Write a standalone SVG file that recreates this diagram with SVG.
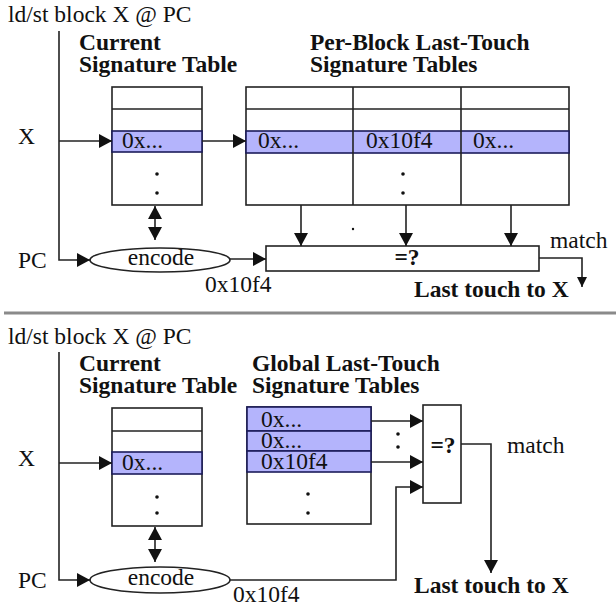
<svg xmlns="http://www.w3.org/2000/svg" width="616" height="607" viewBox="0 0 616 607">
<style>
text{font-family:"Liberation Serif","Times New Roman",serif;font-size:23.5px;fill:#111}
.b{font-weight:bold}
.box{fill:#fff;stroke:#222;stroke-width:1.6}
.hl{fill:#b4b4fc;stroke:#1c1c5a;stroke-width:1.6}
.ln{fill:none;stroke:#222;stroke-width:1.6}
.ar{fill:none;stroke:#222;stroke-width:1.6;marker-end:url(#ah)}
.dot{fill:#111}
</style>
<defs>
<marker id="ah" markerUnits="userSpaceOnUse" markerWidth="14" markerHeight="15" refX="13" refY="7" orient="auto"><path d="M0,0 L13,7 L0,14 z" fill="#111"/></marker>
<marker id="ahs" markerUnits="userSpaceOnUse" markerWidth="11" markerHeight="11" refX="10" refY="5" orient="auto"><path d="M0,0 L10,5 L0,10 z" fill="#111"/></marker>
<marker id="ahd" markerUnits="userSpaceOnUse" markerWidth="14" markerHeight="15" refX="13" refY="7" orient="auto-start-reverse"><path d="M0,0 L13,7 L0,14 z" fill="#111"/></marker>
</defs>
<rect width="616" height="607" fill="#fff"/>

<!-- ===== TOP PANEL ===== -->
<g id="top-title"><text x="8" y="22">ld/st block X @ PC</text></g>
<g id="top-x-label"><text x="18" y="144">X</text></g>
<g id="top-pc-label"><text x="18" y="268">PC</text></g>

<g id="top-current-table">
<text class="b" x="79" y="50">Current</text>
<text class="b" x="79" y="72">Signature Table</text>
<rect class="box" x="112" y="87" width="90" height="118"/>
<line class="ln" x1="112" y1="109" x2="202" y2="109"/>
<rect class="hl" x="112" y="131" width="90" height="21"/>
<text x="122" y="148">0x...</text>
<circle class="dot" cx="157" cy="174" r="1.8"/>
<circle class="dot" cx="157" cy="193" r="1.8"/>
</g>

<g id="top-perblock-tables">
<text class="b" x="310" y="50">Per-Block Last-Touch</text>
<text class="b" x="310" y="72">Signature Tables</text>
<rect class="box" x="246" y="87" width="323" height="118"/>
<line class="ln" x1="246" y1="109" x2="569" y2="109"/>
<rect class="hl" x="246" y="131" width="323" height="22"/>
<line class="ln" x1="353" y1="87" x2="353" y2="205"/>
<line class="ln" x1="461" y1="87" x2="461" y2="205"/>
<text x="258" y="148">0x...</text>
<text x="366" y="148">0x10f4</text>
<text x="473" y="148">0x...</text>
<circle class="dot" cx="403" cy="174" r="1.8"/>
<circle class="dot" cx="403" cy="193" r="1.8"/>
<circle class="dot" cx="353" cy="229" r="1.2"/>
</g>

<g id="top-encode">
<ellipse class="box" cx="160" cy="260" rx="70" ry="12"/>
<text x="161" y="265" text-anchor="middle">encode</text>
</g>

<g id="top-compare">
<rect class="box" x="266" y="246" width="273" height="25"/>
<text class="b" x="407" y="265" text-anchor="middle">=?</text>
</g>

<g id="top-labels">
<text x="205" y="292">0x10f4</text>
<text x="550" y="248">match</text>
<text class="b" x="414" y="297">Last touch to X</text>
</g>

<g id="top-connectors">
<polyline class="ln" points="59,31 59,260 76,260"/>
<line class="ar" x1="59" y1="141" x2="112" y2="141"/>
<line class="ar" x1="76" y1="260" x2="90" y2="260"/>
<line class="ar" x1="202" y1="141" x2="246" y2="141"/>
<line class="ln" x1="155" y1="206" x2="155" y2="240" style="marker-start:url(#ahd);marker-end:url(#ahd)"/>
<line class="ar" x1="230" y1="259" x2="266" y2="259"/>
<line class="ar" x1="301" y1="205" x2="301" y2="246"/>
<line class="ar" x1="406" y1="205" x2="406" y2="246"/>
<line class="ar" x1="511" y1="205" x2="511" y2="246"/>
<polyline class="ln" points="539,258 582,258 582,287" style="marker-end:url(#ahs)"/>
</g>

<!-- separator -->
<line x1="4" y1="313" x2="616" y2="313" stroke="#8a8a8a" stroke-width="3"/>

<!-- ===== BOTTOM PANEL ===== -->
<g id="bot-title"><text x="8" y="344">ld/st block X @ PC</text></g>
<g id="bot-x-label"><text x="18" y="466">X</text></g>
<g id="bot-pc-label"><text x="18" y="588">PC</text></g>

<g id="bot-current-table">
<text class="b" x="79" y="371">Current</text>
<text class="b" x="79" y="393">Signature Table</text>
<rect class="box" x="112" y="408" width="90" height="118"/>
<line class="ln" x1="112" y1="431" x2="202" y2="431"/>
<rect class="hl" x="112" y="452" width="90" height="22"/>
<text x="122" y="470">0x...</text>
<circle class="dot" cx="157" cy="497" r="1.8"/>
<circle class="dot" cx="157" cy="513" r="1.8"/>
</g>

<g id="bot-global-table">
<text class="b" x="252" y="371">Global Last-Touch</text>
<text class="b" x="252" y="393">Signature Tables</text>
<rect class="box" x="247" y="407" width="124" height="117"/>
<rect class="hl" x="247" y="407" width="124" height="24"/>
<rect class="hl" x="247" y="431" width="124" height="20"/>
<rect class="hl" x="247" y="451" width="124" height="21"/>
<text x="261" y="427">0x...</text>
<text x="261" y="448">0x...</text>
<text x="261" y="469">0x10f4</text>
<circle class="dot" cx="308" cy="494" r="1.8"/>
<circle class="dot" cx="308" cy="513" r="1.8"/>
<circle class="dot" cx="398" cy="434" r="1.8"/>
<circle class="dot" cx="398" cy="447" r="1.8"/>
</g>

<g id="bot-encode">
<ellipse class="box" cx="160" cy="580" rx="70" ry="13"/>
<text x="161" y="585" text-anchor="middle">encode</text>
</g>

<g id="bot-compare">
<rect class="box" x="423" y="405" width="38" height="98"/>
<text class="b" x="443" y="453" text-anchor="middle">=?</text>
</g>

<g id="bot-labels">
<text x="233" y="602">0x10f4</text>
<text x="507" y="453">match</text>
<text class="b" x="414" y="593">Last touch to X</text>
</g>

<g id="bot-connectors">
<polyline class="ln" points="59,352 59,580 76,580"/>
<line class="ar" x1="59" y1="463" x2="112" y2="463"/>
<line class="ar" x1="76" y1="580" x2="90" y2="580"/>
<line class="ln" x1="155" y1="527" x2="155" y2="562" style="marker-start:url(#ahd);marker-end:url(#ahd)"/>
<line class="ar" x1="371" y1="421" x2="423" y2="421"/>
<line class="ar" x1="371" y1="462" x2="423" y2="462"/>
<polyline class="ar" points="230,580 396,580 396,487 423,487"/>
<polyline class="ar" points="461,444 491,444 491,573"/>
</g>
</svg>
